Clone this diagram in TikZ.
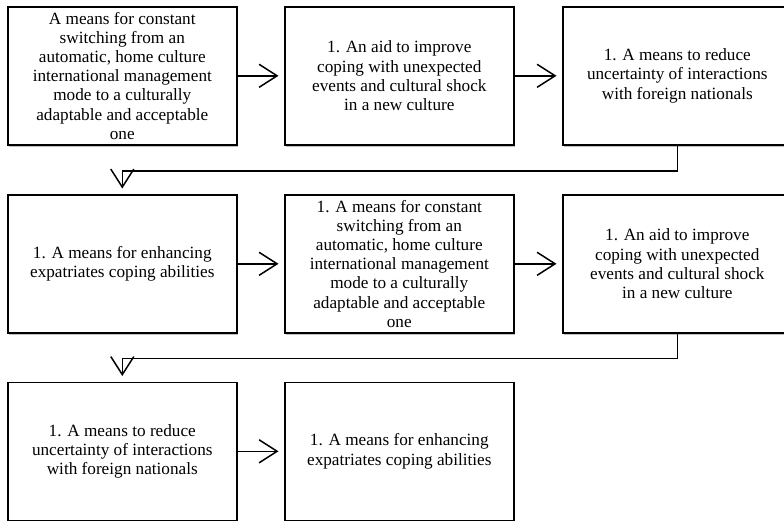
\documentclass[tikz,border=0pt]{standalone}
\usepackage{fontspec}
\setmainfont{Liberation Serif}
\usetikzlibrary{arrows.meta,shadows}
\begin{document}
\begin{tikzpicture}[x=1pt,y=-1pt,
  stage/.style={draw=black, line width=1.6pt, fill=white, minimum width=229pt,
    minimum height=138pt, inner sep=0pt, align=center, anchor=north west,
    font=\fontsize{17.2}{19.2}\selectfont,
    drop shadow={shadow xshift=1.5pt, shadow yshift=-2.5pt, opacity=0.25, fill=black}},
  flow/.style={line width=1.5pt, shorten >=5.5pt,
    -{Straight Barb[length=18pt,width=23pt,line width=1.5pt]}}
]
\useasboundingbox (0,0) rectangle (784,520);

% first row
\node[stage] (b1) at (7,6) {A means for constant\\switching from an\\automatic, home culture\\international management\\mode to a culturally\\adaptable and acceptable\\one};
\node[stage] (b2) at (284,6) {1. An aid to improve\\coping with unexpected\\events and cultural shock\\in a new culture};
\node[stage] (b3) at (562,6) {1. A means to reduce\\uncertainty of interactions\\with foreign nationals};

% second row
\node[stage] (b4) at (7,194) {1. A means for enhancing\\expatriates coping abilities};
\node[stage] (b5) at (284,194) {1. A means for constant\\switching from an\\automatic, home culture\\international management\\mode to a culturally\\adaptable and acceptable\\one};
\node[stage] (b6) at (562,194) {1. An aid to improve\\coping with unexpected\\events and cultural shock\\in a new culture};

% third row
\node[stage] (b7) at (7,381.5) {1. A means to reduce\\uncertainty of interactions\\with foreign nationals};
\node[stage] (b8) at (284,381.5) {1. A means for enhancing\\expatriates coping abilities};

% connectors
\draw[flow] (b1.east) -- (b2.west);
\draw[flow] (b2.east) -- (b3.west);
\draw[flow] (b3.south) -- ++(0,25.5) -| (b4.north);
\draw[flow] (b4.east) -- (b5.west);
\draw[flow] (b5.east) -- (b6.west);
\draw[flow] (b6.south) -- ++(0,25) -| (b7.north);
\draw[flow] (b7.east) -- (b8.west);
\end{tikzpicture}
\end{document}
